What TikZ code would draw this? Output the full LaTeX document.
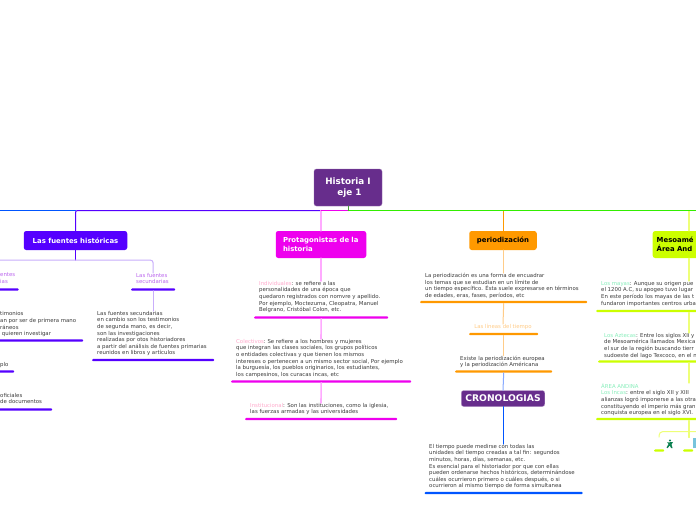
\documentclass[tikz,border=0pt]{standalone}
\usepackage{fontspec}
\setmainfont{DejaVu Sans}
\usetikzlibrary{calc,positioning}
\definecolor{rootpurple}{HTML}{672D8C}
\definecolor{fuentesblue}{HTML}{5500FF}
\definecolor{fuenteslight}{HTML}{C9AEFB}
\definecolor{labelpurple}{HTML}{BB66EE}
\definecolor{protamag}{HTML}{EE00EE}
\definecolor{protalight}{HTML}{FFAAFF}
\definecolor{protapink}{HTML}{FFAACC}
\definecolor{periorange}{HTML}{FF9900}
\definecolor{perilight}{HTML}{FFCC88}
\definecolor{cronoblue}{HTML}{0055FF}
\definecolor{cronolight}{HTML}{88AAFF}
\definecolor{trunkgreen}{HTML}{33EE00}
\definecolor{mesolime}{HTML}{CCFF00}
\definecolor{mesolight}{HTML}{EEFF77}
\definecolor{mesolabel}{HTML}{88EEBB}
\definecolor{leafgray}{HTML}{3C3C3C}
\definecolor{icongreen}{HTML}{0A8050}
\definecolor{iconblue}{HTML}{77C4DC}
\tikzset{
  topicbox/.style={rounded corners=2.5pt,inner sep=0pt,font=\fontsize{6.9}{8.8}\selectfont\bfseries,text=white},
  leaf/.style={anchor=north west,inner sep=0pt,align=left,text=leafgray,font=\fontsize{5.4}{6.6}\selectfont},
  ulbar/.style={fill=#1,rounded corners=1pt,inner sep=0pt,minimum height=2.4pt,anchor=west},
  branch/.style={draw=#1,line width=1pt},
  stem/.style={draw=#1,line width=1.6pt}
}
\begin{document}
\begin{tikzpicture}[line cap=round,line join=round,x=1pt,y=-1pt]
\clip (0,0) rectangle (696,520);
\fill[white] (0,0) rectangle (696,520);
%caja central
\node[topicbox,fill=rootpurple,draw=rootpurple!70!white,align=center,minimum width=68pt,minimum height=37pt,font=\fontsize{8.8}{11}\selectfont\bfseries] (root) at (348,187.5) {Historia I\\ \ eje 1};
\coordinate (trunk) at (348,210.5);
\coordinate (offleft) at (0,210.5);
%temas
\node[topicbox,fill=fuentesblue,minimum width=103.5pt,minimum height=19pt] (fuentes) at (75.5,240.5) {Las fuentes históricas};
\node[topicbox,fill=protamag,align=left,minimum width=90.5pt,minimum height=27pt,text width=76pt] (prota) at (321,244.5) {Protagonistas de la\\historia};
\node[topicbox,fill=periorange,minimum width=67.5pt,minimum height=19pt,text=black] (peri) at (503,240.5) {periodización};
\node[topicbox,fill=rootpurple,draw=rootpurple!50!white,minimum width=83.5pt,minimum height=16pt,font=\fontsize{9.2}{10}\selectfont\bfseries] (crono) at (503,398.5) {CRONOLOGIAS};
\node[topicbox,fill=mesolime,align=left,anchor=west,minimum width=70pt,minimum height=27pt,text width=62pt,text=black] (meso) at (652.5,244.5) {Mesoamé\\Área And};
%fuentes historicas
\coordinate (fuentesfork) at (75.5,260);
\node[leaf,text=labelpurple] (prim) at (0,273) {entes\\ias};
\node[ulbar=fuentesblue,minimum width=22pt] (primbar) at (-3.5,289.5) {};
\node[leaf,text=labelpurple] (secu) at (136,273) {Las fuentes\\secundarias};
\node[ulbar=fuentesblue,minimum width=44pt] (secubar) at (131,289.5) {};
\node[leaf] (primtxt) at (0,311.5) {timonios\\an por ser de primera mano\\ráneos\\\ quieren investigar};
\node[ulbar=fuentesblue,minimum width=90pt] (primtxtbar) at (-7,340.5) {};
\node[leaf] (plo) at (0,362) {plo};
\node[ulbar=fuentesblue,minimum width=20pt] (plobar) at (-6,371.5) {};
\node[leaf] (ofic) at (0,393) {oficiales\\\vphantom{l}de documentos};
\node[ulbar=fuentesblue,minimum width=60pt] (oficbar) at (-8,409.5) {};
\node[leaf] (secutxt) at (97,311) {Las fuentes secundarias\\en cambio son los testimonios\\de segunda mano, es decir,\\son las investigaciones\\realizadas por otos historiadores\\a partir del análisis de fuentes primarias\\reunidos en libros y artículos};
\node[ulbar=fuentesblue,minimum width=122pt] (secutxtbar) at (92,360) {};
%protagonistas
\node[leaf] (indiv) at (259,281) {\textcolor{protapink}{Individuales}: se refiere a las\\personalidades de una época que\\quedaron registrados con nomvre y apellido.\\Por ejemplo, Moctezuma, Cleopatra, Manuel\\Belgrano, Cristóbal Colon, etc.};
\node[ulbar=protamag,minimum width=134pt] (indivbar) at (254,317.5) {};
\node[leaf] (colec) at (236,339) {\textcolor{protapink}{Colectivos}:\ Se refiere a los hombres y mujeres\\que integran las clases sociales, los grupos políticos\\o entidades colectivas y que tienen los mismos\\intereses o pertenecen a un mismo sector social, Por ejemplo\\la burguesía, los pueblos originarios, los estudiantes,\\los campesinos, los curacas incas, etc};
\node[ulbar=protamag,minimum width=180pt] (colecbar) at (231,381.5) {};
\node[leaf] (instit) at (250,403) {\textcolor{protapink}{Institucional}: Son las instituciones, como la iglesia,\\las fuerzas armadas y las universidades};
\node[ulbar=protamag,minimum width=152pt] (institbar) at (245,419) {};
%periodizacion
\node[leaf] (peritxt) at (425,273) {La periodización es una forma de encuadrar\\los temas que se estudian en un límite de\\un tiempo específico. Ésta suele expresarse en términos\\de edades, eras, fases, períodos, etc};
\node[ulbar=periorange,minimum width=167pt] (peribar) at (420,302) {};
\node[leaf,text=perilight,anchor=north] (lineas) at (503,324) {Las líneas del tiempo};
\node[ulbar=periorange,minimum width=69pt] (lineasbar) at (469,334) {};
\node[leaf] (existe) at (460,355.5) {Existe la periodización europea\\y la periodización Américana};
\node[ulbar=periorange,minimum width=97pt] (existebar) at (455,371.5) {};
%cronologias
\node[leaf] (cronotxt) at (429,444) {El tiempo puede medirse con todas las\\unidades del tiempo creadas a tal fin: segundos\\minutos, horas, días, semanas, etc.\\Es esencial para el historiador por que con ellas\\pueden ordenarse hechos históricos, determinándose\\cuáles ocurrieron primero o cuáles después, o si\\ocurrieron al mismo tiempo de forma simultanea};
\node[ulbar=cronoblue,minimum width=158pt] (cronobar) at (424.5,493) {};
%mesoamerica
\node[leaf] (mayas) at (601,281) {\textcolor{mesolabel}{Los mayas}: Aunque su origen pue\\el 1200 A.C, su apogeo tuvo lugar\\En este período los mayas de las t\\fundaron importantes centros urba};
\node[ulbar=mesolime,minimum width=110pt] (mayasbar) at (596,311) {};
\node[leaf] (azte) at (604,333) {\textcolor{mesolabel}{Los Aztecas}: Entre los siglos XII y\\de Mesoamérica llamados Mexica\\el sur de la región buscando tierr\\sudoeste del lago Texcoco, en el n};
\node[ulbar=mesolime,minimum width=108pt] (aztebar) at (598,361.5) {};
\node[leaf] (incas) at (601,383) {\textcolor{mesolabel}{ÁREA ANDINA}\\\textcolor{mesolabel}{Los Incas}: entre el siglo XII y XIII\\alianzas logró imponerse a las otra\\constituyendo el imperio más gran\\conquista europea en el siglo XVI.};
\node[ulbar=mesolime,minimum width=110pt] (incasbar) at (596,419) {};
\coordinate (mesofork) at (689,431.5);
\coordinate (offright) at (700,431.5);
\node[ulbar=mesolime,minimum width=10pt] (iconbarA) at (654,450.5) {};
\node[ulbar=mesolime,minimum width=10pt] (iconbarB) at (683,450.5) {};
%conectores
\path[branch=cronoblue] (offleft) -- (fuentes.north |- trunk);
\path[branch=fuentesblue,rounded corners=2pt] (prota.north |- trunk) -- (fuentes.north |- trunk) -- (fuentes.north);
\path[branch=fuentesblue] (fuentes.south) -- (fuentesfork);
\path[stem=fuenteslight,line width=1pt,rounded corners=3pt] (-5,260) -- (fuentesfork) -| (secu.north -| secubar.north);
\path[stem=fuenteslight,line width=1pt] (secubar.south) -- (secubar.south |- secutxt.north);
\path[stem=protalight] (prota.north |- trunk) -- (prota.north);
\path[stem=protalight] (prota.south) -- (prota.south |- indiv.north);
\path[stem=protalight] (indivbar.south) -- (prota.south |- colec.north);
\path[stem=protalight] (colecbar.south) -- (prota.south |- instit.north);
\path[branch=protamag] (trunk) -- (prota.north |- trunk);
\path[branch=periorange] (peri.north |- trunk) -- (peri.north);
\path[stem=perilight,line width=1pt] (peri.south) -- (peri.south |- peritxt.north);
\path[stem=perilight,line width=1pt] (peribar.south) -- (lineas.north);
\path[stem=perilight,line width=1pt] (lineasbar.south) -- (lineasbar.south |- existe.north);
\path[branch=cronolight] (existebar.south) -- (crono.north);
\path[branch=cronoblue] (crono.south) -- (crono.south |- cronotxt.north);
\path[stem=mesolight,line width=1.2pt] (mesofork |- trunk) -- (mesofork |- meso.north);
\path[stem=mesolight,line width=1.2pt] (mesofork |- meso.south) -- (mesofork |- mayas.north);
\path[stem=mesolight,line width=1.2pt] (mesofork |- mayasbar.south) -- (mesofork |- azte.north);
\path[stem=mesolight,line width=1.2pt] (mesofork |- aztebar.south) -- (mesofork |- incas.north);
\path[stem=mesolight,line width=1.2pt] (mesofork |- incasbar.south) -- (mesofork) -- ($(mesofork)+(0,6)$);
\path[stem=mesolight,line width=1pt,rounded corners=4pt] (offright) -- (659,431.5) -- (659,437);
\path[branch=trunkgreen] (trunk) -- (696,210.5);
\path[branch=rootpurple!40!trunkgreen] (root.south) -- (trunk);
%iconos
\fill[icongreen] (670,440.5) circle (1.1pt);
\fill[icongreen] (667,442.5) -- (673,442) -- (671.5,444.5) -- (672.5,448) -- (671,448) -- (669.8,445.5) -- (667.5,448.2) -- (666.5,447.5) -- (668.6,444) -- cycle;
\fill[iconblue] (693,438) rectangle (697,448);
\end{tikzpicture}
\end{document}
